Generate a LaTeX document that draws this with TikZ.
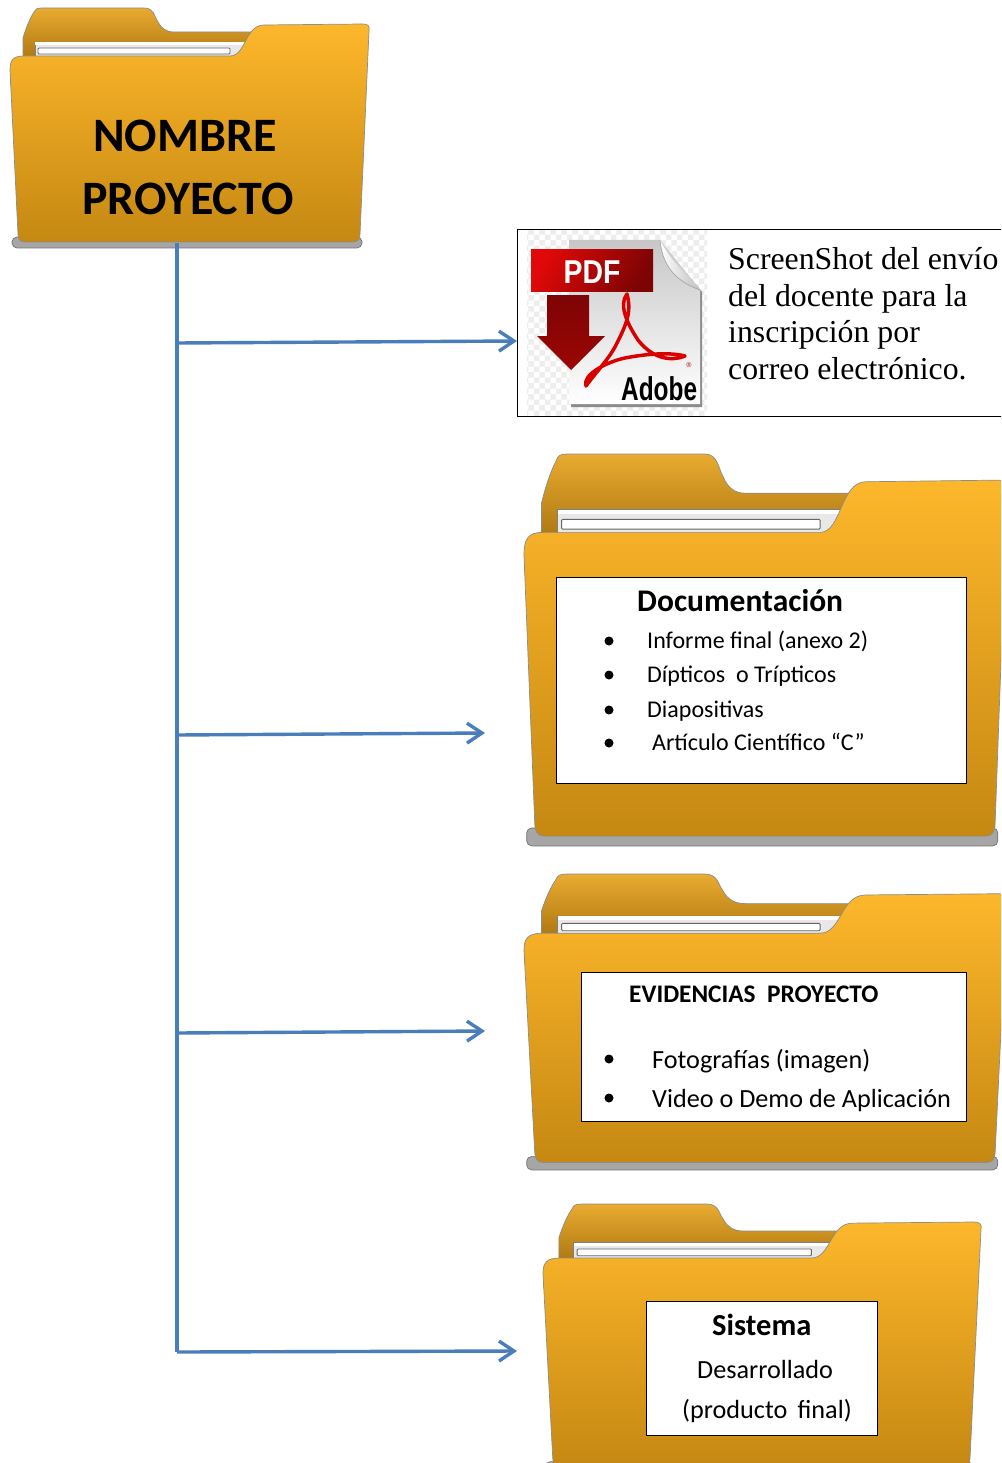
\documentclass[tikz,border=0pt]{standalone}
\usepackage{fontspec}
\usepackage{xcolor}
\usetikzlibrary{arrows.meta,patterns}
\newfontfamily\carlito{Carlito}
\newfontfamily\timesfont{Liberation Serif}
\newfontfamily\logofont{Liberation Sans}
\definecolor{linkblue}{HTML}{4A7EBB}
\definecolor{foldertop}{HTML}{FDB72B}
\definecolor{foldermid}{HTML}{F5AD29}
\definecolor{folderlow}{HTML}{C58812}
\definecolor{backtop}{HTML}{E9AB30}
\definecolor{backlow}{HTML}{AE7812}
\definecolor{pdfred}{HTML}{E00808}
\definecolor{pdfdark}{HTML}{7E0404}
\newcommand{\drawfolder}[4]{%
  \begin{scope}[shift={(#1,#2)},xscale=#3,yscale=#4]
    \draw[black!55,fill=black!35,line width=.7,rounded corners=5] (2,229) rectangle (352,240);
    \draw[black!45,top color=backtop,bottom color=backlow,line width=.7]
      (13,50) -- (13,30) .. controls (16,20) and (20,10) .. (24,4)
      .. controls (25,1) and (27,0) .. (32,0) -- (134,0)
      .. controls (144,0) and (144,8) .. (148,14)
      .. controls (151,20) and (156,24) .. (164,24) -- (245,24) -- (245,50) -- cycle;
    \draw[black!50,fill=black!9,line width=.8] (25,34) rectangle (236,49);
    \fill[white] (25.4,34.4) rectangle (236,37);
    \draw[black!60,fill=white,line width=.9,rounded corners=1] (28,40) rectangle (220,46);
    \draw[black!45,top color=foldertop,middle color=foldermid,bottom color=folderlow,line width=.7]
      (0,62) .. controls (0,52) and (3,48) .. (14,48) -- (220,48)
      .. controls (236,48) and (235,17) .. (254,17) -- (353,16)
      .. controls (358,16) and (360,18) .. (359,23) -- (350,226)
      .. controls (350,231) and (348,234) .. (343,234) -- (15,234)
      .. controls (10,234) and (8,231) .. (8,226) -- cycle;
  \end{scope}}

\begin{document}
\begin{tikzpicture}[x=1pt,y=-1pt]
    \tikzstyle{link}=[draw=linkblue,line width=3.4pt,-{Straight Barb[length=15pt,width=20pt]}]
    \tikzstyle{trunk}=[draw=linkblue,line width=3.4pt]
    \tikzstyle{frame}=[draw=black,fill=white,line width=1.3pt,inner sep=0pt,anchor=north west]
    \tikzstyle{txt}=[inner sep=0pt,anchor=base west,text=black]
    \tikzstyle{bigtitle}=[txt,font=\carlito\bfseries\fontsize{48}{52}\selectfont]
    \tikzstyle{doctitle}=[txt,font=\carlito\bfseries\fontsize{31.5}{36}\selectfont]
    \tikzstyle{item}=[txt,font=\carlito\fontsize{24}{28}\selectfont]
    \tikzstyle{wideitem}=[txt,font=\carlito\fontsize{26.2}{30}\selectfont]
    \tikzstyle{dot}=[circle,fill=black,inner sep=0pt,minimum size=9pt]
    \clip (0,0) rectangle (1001,1463);
    \fill[white] (0,0) rectangle (1001,1463);

    \drawfolder{10}{8}{1}{1}
    \drawfolder{524}{454}{1.346}{1.633}
    \drawfolder{524}{874}{1.346}{1.233}
    \drawfolder{543}{1204}{1.22}{1.125}

    \node[bigtitle] (nombre) at (93,152) {NOMBRE};
    \node[bigtitle] (proyecto) at (82,215) {PROYECTO};

    \node[frame,minimum width=490pt,minimum height=187pt] (pdfbox) at (517,229) {};
    \fill[pattern=checkerboard,pattern color=black!7] (527,231) rectangle (707,415);
    \fill[black!45] (571,241) -- (660,241) -- (702,292) -- (702,407) -- (571,407) -- cycle;
    \path[top color=black!22,bottom color=white] (569,240) -- (660,240) -- (700,290) -- (700,404) -- (569,404) -- cycle;
    \path[left color=white,right color=black!25] (660,240) .. controls (662,262) and (672,280) .. (700,290) .. controls (680,270) and (668,255) .. (660,240) -- cycle;
    \draw[black!35,line width=.7pt] (660,240) .. controls (662,262) and (672,280) .. (700,290);
    \path[left color=pdfred,right color=pdfdark,shading angle=60] (531,250) rectangle (653,291);
    \node[inner sep=0pt,anchor=base,text=white,font=\logofont\bfseries\fontsize{33}{36}\selectfont,xscale=.86] (pdftag) at (592,283) {PDF};
    \path[top color=pdfdark,bottom color=pdfred!70!black] (547,295) -- (589,295) -- (589,336) -- (605,336) -- (571,370) -- (537,336) -- (547,336) -- cycle;
    \draw[red!85!black,line width=3.5pt,line join=round]
      (627,294) .. controls (632,312) and (626,325) .. (617,343)
      .. controls (610,358) and (596,372) .. (586,386)
      .. controls (582,375) and (606,362) .. (625,358)
      .. controls (645,354) and (670,352) .. (685,356)
      .. controls (670,362) and (652,358) .. (638,340)
      .. controls (628,325) and (618,305) .. (627,294) -- cycle;
    \node[inner sep=0pt,anchor=base west,font=\logofont\bfseries\fontsize{33}{35}\selectfont,xscale=.74] (adobe) at (621,400) {Adobe};
    \node[inner sep=0pt,text=red!70!black,font=\logofont\fontsize{7}{8}\selectfont] (regmark) at (689,365) {®};
    \node[inner sep=0pt,anchor=north west,align=left,font=\timesfont\fontsize{31.8}{36.7}\selectfont] (shot) at (728,247)
      {ScreenShot del envío\\del docente para la\\inscripción por\\correo electrónico.};

    \node[frame,minimum width=410pt,minimum height=206.4pt] (docbox) at (556,576.7) {};
    \node[doctitle] (doctitle) at (637,611) {Documentación};
    \foreach \i/\xpos/\ypos/\txt in {1/647/648/Informe final (anexo 2),2/647/682/Dípticos~~o Trípticos,3/647/717/Diapositivas,4/652/750/Artículo Científico “C”} {
      \node[item] (doc\i) at (\xpos,\ypos) {\txt};
      \node[dot] (docdot\i) at (609,\ypos-7) {};
    }

    \node[frame,minimum width=385pt,minimum height=149pt] (evibox) at (581,972) {};
    \node[txt,font=\carlito\bfseries\fontsize{25.3}{29}\selectfont] (evititle) at (629,1002) {EVIDENCIAS~~PROYECTO};
    \foreach \i/\ypos/\txt in {1/1068/Fotografías (imagen),2/1107/Video o Demo de Aplicación} {
      \node[wideitem] (evi\i) at (652,\ypos) {\txt};
      \node[dot] (evidot\i) at (609,\ypos-9) {};
    }

    \node[frame,minimum width=231pt,minimum height=134pt] (sisbox) at (646,1300.7) {};
    \node[txt,font=\carlito\bfseries\fontsize{30.5}{34}\selectfont] (sistitle) at (712,1335) {Sistema};
    \node[wideitem] (sis1) at (697,1378) {Desarrollado};
    \node[wideitem] (sis2) at (682,1418) {(producto~\,final)};

    \coordinate (trunktop) at (177,243);
    \coordinate (trunkend) at (177,1352);
    \coordinate (branch1) at (177,343);
    \coordinate (branch2) at (177,735);
    \coordinate (branch3) at (177,1033);
    \coordinate (docend) at (485,733);
    \coordinate (eviend) at (485,1031);
    \coordinate (sisend) at (517,1351);
    \draw[trunk] (trunktop) -- (trunkend);
    \draw[link] (branch1) -- (pdfbox.west |- 0,341);
    \draw[link] (branch2) -- (docend);
    \draw[link] (branch3) -- (eviend);
    \draw[link] (trunkend) -- (sisend);
\end{tikzpicture}
\end{document}
